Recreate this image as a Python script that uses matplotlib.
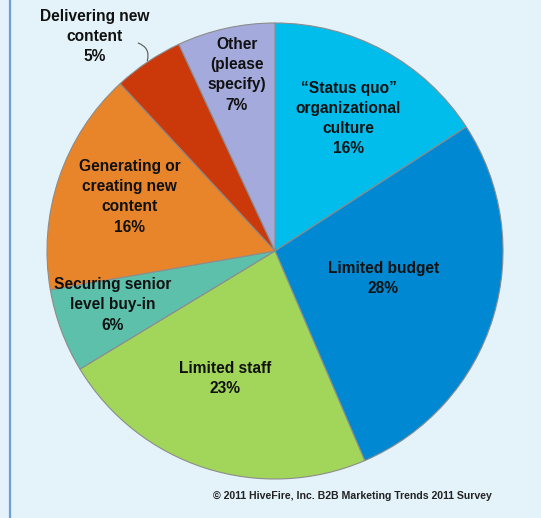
import numpy as np
import matplotlib
matplotlib.use("Agg")
from matplotlib import pyplot as plt
from matplotlib.lines import Line2D

labels = ["\u201cStatus quo\u201d\norganizational\nculture",
          "Limited budget",
          "Limited staff",
          "Securing senior\nlevel buy-in",
          "Generating or\ncreating new\ncontent",
          "Delivering new\ncontent",
          "Other\n(please\nspecify)"]
values = [16, 28, 23, 6, 16, 5, 7]
colors = ["#00BDEC", "#0089D2", "#A1D65B", "#5DC0AB", "#E8852A", "#CB390B", "#A4AADB"]

# where each label sits: (angle in degrees, distance from centre as a fraction of the radius)
label_pos = [(61, 0.665), (-14, 0.49), (-111.5, 0.60), (-161.6, 0.75),
             (159.6, 0.68), (130, 1.23), (102.2, 0.79)]

bg = "#E4F3F9"
fig = plt.figure(figsize=(5.41, 5.18), dpi=100)
fig.patch.set_facecolor(bg)

# pie centred at (275, 251) px with a radius of 228 px
W, H = 541, 518
cx, cy, r = 275, 251, 228
ax = fig.add_axes([(cx - r) / W, (H - cy - r) / H, 2 * r / W, 2 * r / H])
ax.set_facecolor(bg)
ax.pie(values, colors=colors, startangle=90, counterclock=False, radius=1,
       wedgeprops=dict(edgecolor="#8C8C8C", linewidth=0.8))
ax.set_xlim(-1, 1)
ax.set_ylim(-1, 1)
ax.set_aspect("equal")
ax.axis("off")

font = dict(family="Liberation Sans", weight="bold", fontsize=11.2, color="#111111")
for lab, v, (ang, rr) in zip(labels, values, label_pos):
    a = np.deg2rad(ang)
    ax.text(rr * np.cos(a), rr * np.sin(a), f"{lab}\n{v}%", ha="center", va="center",
            linespacing=1.42, clip_on=False, **font)

# leader line from the "Delivering new content" label to its slice
total = sum(values)
start = 90 - 360 * sum(values[:5]) / total
end = 90 - 360 * sum(values[:6]) / total
mid = np.deg2rad((start + end) / 2)
ax.annotate("", xy=(1.005 * np.cos(mid), 1.005 * np.sin(mid)), xytext=(-0.6, 0.912),
            arrowprops=dict(arrowstyle="-", color="#555555", lw=0.8,
                            connectionstyle="arc3,rad=-0.45",
                            shrinkA=0, shrinkB=0),
            annotation_clip=False)

fig.text(352 / W, 1 - 496 / H, "\u00a9 2011 HiveFire, Inc. B2B Marketing Trends 2011 Survey",
         ha="center", va="center", family="Liberation Sans", weight="bold",
         fontsize=7.6, color="#222222")

# blue rule down the left side
fig.add_artist(Line2D([10 / W, 10 / W], [0, 1], color="#6C9CD9", lw=1.6,
                      transform=fig.transFigure))

fig.savefig("out.png", dpi=100, facecolor=bg)
